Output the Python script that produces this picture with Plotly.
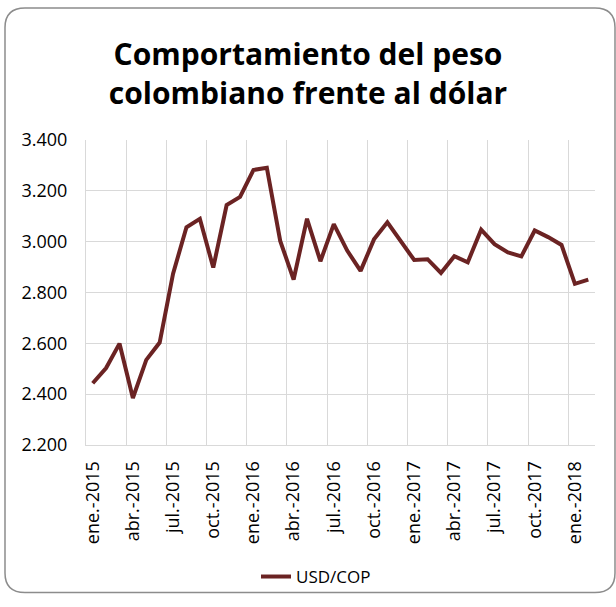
import plotly.graph_objects as go

months = ["ene.", "feb.", "mar.", "abr.", "may.", "jun.", "jul.", "ago.", "sep.", "oct.", "nov.", "dic."]
categories = [f"{months[i % 12]}-{2015 + i // 12}" for i in range(38)]

usd_cop = [2443, 2503, 2599, 2385, 2535, 2603, 2874, 3057, 3090, 2898, 3144, 3176,
           3282, 3291, 3003, 2851, 3090, 2923, 3069, 2965, 2885, 3009, 3076, 3003,
           2928, 2931, 2877, 2943, 2919, 3047, 2990, 2958, 2942, 3044, 3018, 2987,
           2834, 2851]

tick_idx = list(range(0, 38, 3))
tick_text = [categories[i] for i in tick_idx]

W, H = 616, 607
L, R, T, B = 86, 21, 140, 155
pw, ph = W - L - R, H - T - B
GRID = "#D9D9D9"

fig = go.Figure()
fig.add_trace(go.Scatter(
    x=list(range(len(usd_cop))), y=usd_cop, mode="lines", name="USD/COP",
    line=dict(color="#6B2323", width=4), showlegend=True,
))

def px2paper(x, y):
    return (x - L) / pw, (H - B - y) / ph

# rounded border
x0, y0, x1, y1, rr = 5, 5, 615, 603, 20
def P(x, y):
    a, b = px2paper(x, y)
    return f"{a:.5f},{b:.5f}"
path = (f"M {P(x0 + rr, y0)} L {P(x1 - rr, y0)} Q {P(x1, y0)} {P(x1, y0 + rr)} "
        f"L {P(x1, y1 - rr)} Q {P(x1, y1)} {P(x1 - rr, y1)} "
        f"L {P(x0 + rr, y1)} Q {P(x0, y1)} {P(x0, y1 - rr)} "
        f"L {P(x0, y0 + rr)} Q {P(x0, y0)} {P(x0 + rr, y0)} Z")
fig.add_shape(type="path", path=path, xref="paper", yref="paper",
              line=dict(color="#8C8C8C", width=1.5), layer="below")

lx, ly = px2paper(316, 587)

fig.update_layout(
    width=W, height=H,
    margin=dict(l=L, r=R, t=T, b=B),
    paper_bgcolor="white", plot_bgcolor="white",
    separators=",.",
    font=dict(family="Open Sans", size=18, color="#000000"),
    title=dict(text="<b>Comportamiento del peso<br>colombiano frente al dólar</b>",
               x=0.5, xref="container", xanchor="center",
               y=1 - 65 / H, yref="container", yanchor="middle",
               font=dict(family="Open Sans", size=30, color="#000000")),
    xaxis=dict(range=[-0.5, 37.5], tickmode="array", tickvals=tick_idx, ticktext=tick_text,
               tickangle=-90, showgrid=False, zeroline=False,
               showline=True, linecolor=GRID, linewidth=1, mirror=False,
               ticks="outside", ticklen=8, tickcolor="rgba(0,0,0,0)",
               tickfont=dict(family="Open Sans", size=18),
               minor=dict(tick0=-0.5, dtick=3, showgrid=True, gridcolor=GRID, gridwidth=1, ticks="")),
    yaxis=dict(range=[2200, 3400], dtick=200, tickformat=",d", showgrid=True,
               gridcolor=GRID, gridwidth=1, zeroline=False,
               showline=True, linecolor=GRID, linewidth=1,
               ticks="outside", ticklen=14, tickcolor="rgba(0,0,0,0)",
               tickfont=dict(family="Open Sans", size=18)),
    legend=dict(orientation="h", x=lx, xanchor="center", y=ly, yanchor="middle",
                font=dict(family="Open Sans", size=17), bgcolor="rgba(0,0,0,0)"),
)

fig.write_html("out.html", config={"displayModeBar": False},
               post_script="document.body.style.margin='0';document.body.style.padding='0';")
